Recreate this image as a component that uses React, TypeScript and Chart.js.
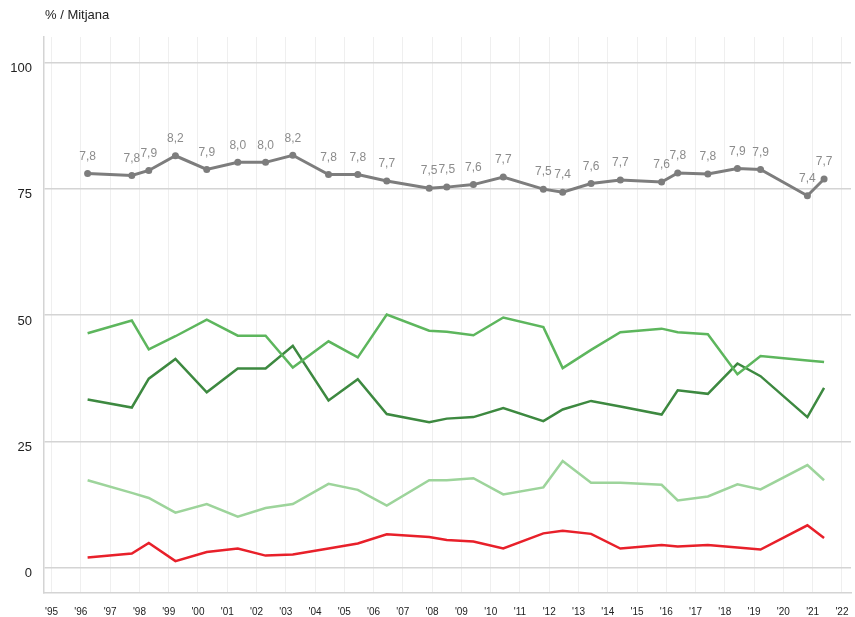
import React, { useEffect, useRef } from "react";
import { Chart, registerables } from "chart.js";

Chart.register(...registerables);

// survey dates (decimal years)
const dates = [
  1996.23, 1997.74, 1998.32, 1999.23, 2000.3, 2001.36, 2002.31, 2003.24, 2004.46, 2005.46,
  2006.45, 2007.9, 2008.5, 2009.41, 2010.43, 2011.8, 2012.46, 2013.43, 2014.43, 2015.84,
  2016.39, 2017.42, 2018.43, 2019.22, 2020.82, 2021.39,
];

// mean (0-10 scale), plotted ×10
const mean = [
  7.8, 7.76, 7.86, 8.15, 7.88, 8.02, 8.02, 8.16, 7.78, 7.78,
  7.65, 7.51, 7.53, 7.58, 7.73, 7.49, 7.43, 7.6, 7.67, 7.63,
  7.81, 7.79, 7.9, 7.88, 7.36, 7.69,
];

const seriesMid = [
  46.4, 48.9, 43.2, 45.8, 49.1, 45.9, 45.9, 39.6, 44.8, 41.6,
  50.1, 46.9, 46.7, 46.0, 49.5, 47.6, 39.5, 43.1, 46.6, 47.3,
  46.6, 46.2, 38.3, 41.9, 41.0, 40.7,
];

const seriesDark = [
  33.3, 31.7, 37.4, 41.3, 34.7, 39.4, 39.4, 43.9, 33.1, 37.3,
  30.4, 28.8, 29.5, 29.8, 31.6, 29.0, 31.3, 33.0, 31.9, 30.3,
  35.1, 34.4, 40.4, 37.9, 29.8, 35.6,
];

const seriesLight = [
  17.3, 14.8, 13.8, 10.9, 12.6, 10.1, 11.8, 12.6, 16.6, 15.4,
  12.3, 17.3, 17.3, 17.7, 14.5, 15.9, 21.1, 16.8, 16.8, 16.4,
  13.3, 14.1, 16.5, 15.5, 20.3, 17.3,
];

const seriesRed = [
  2.0, 2.8, 4.9, 1.3, 3.1, 3.8, 2.4, 2.6, 3.8, 4.8,
  6.6, 6.1, 5.5, 5.2, 3.8, 6.8, 7.3, 6.7, 3.8, 4.5,
  4.2, 4.5, 4.0, 3.6, 8.4, 5.9,
];

const yTicks = [0, 25, 50, 75, 100];
const xTicks = Array.from({ length: 28 }, (_, i) => 1995 + i);
const yTitle = "% / Mitjana";

const pts = (vals: number[], k = 1) => vals.map((v, i) => ({ x: dates[i], y: v * k }));

export default function App() {
  const ref = useRef<HTMLCanvasElement>(null);
  useEffect(() => {
    if (!ref.current) return;
    const labelPlugin = {
      id: "meanLabels",
      afterDatasetsDraw(chart: any) {
        const ctx = chart.ctx;
        const meta = chart.getDatasetMeta(0);
        ctx.save();
        ctx.font = "12px 'Liberation Sans', Arial, sans-serif";
        ctx.fillStyle = "#8c8c8c";
        ctx.textAlign = "center";
        ctx.textBaseline = "middle";
        meta.data.forEach((el: any, i: number) => {
          ctx.fillText(mean[i].toFixed(1).replace(".", ","), el.x, el.y - 17);
        });
        ctx.restore();
      },
      afterDraw(chart: any) {
        const ctx = chart.ctx;
        ctx.save();
        ctx.font = "13px 'Liberation Sans', Arial, sans-serif";
        ctx.fillStyle = "#222";
        ctx.textAlign = "left";
        ctx.textBaseline = "middle";
        ctx.fillText(yTitle, 45, 15);
        ctx.restore();
      },
    };
    const chart = new Chart(ref.current, {
      type: "line",
      data: {
        datasets: [
          {
            data: pts(mean, 10),
            borderColor: "#7d7d7d",
            backgroundColor: "#7d7d7d",
            borderWidth: 3,
            pointRadius: 3.5,
            pointBorderWidth: 0,
          },
          { data: pts(seriesMid), borderColor: "#5db65d", borderWidth: 2.5, pointRadius: 0 },
          { data: pts(seriesDark), borderColor: "#3d8940", borderWidth: 2.5, pointRadius: 0 },
          { data: pts(seriesLight), borderColor: "#9dd49b", borderWidth: 2.5, pointRadius: 0 },
          { data: pts(seriesRed), borderColor: "#e8202a", borderWidth: 2.5, pointRadius: 0 },
        ],
      },
      options: {
        animation: false,
        responsive: true,
        maintainAspectRatio: false,
        layout: { padding: { top: 37, right: 3, left: 0, bottom: 0 } },
        plugins: { legend: { display: false }, tooltip: { enabled: false } },
        scales: {
          x: {
            type: "linear",
            min: 1994.74,
            max: 2022.31,
            afterBuildTicks: (s: any) => {
              s.ticks = xTicks.map((v) => ({ value: v }));
            },
            afterFit: (s: any) => {
              s.height = 24;
              s.paddingLeft = 0;
              s.paddingRight = 0;
            },
            grid: { color: "#efefef", lineWidth: 1, drawTicks: false },
            border: { color: "#d4d4d4", width: 1.5 },
            ticks: {
              padding: 13,
              color: "#222",
              font: { size: 10, family: "'Liberation Sans', Arial, sans-serif" },
              maxRotation: 0,
              autoSkip: false,
              callback: (v: any) => "'" + String(v).slice(2),
            },
          },
          y: {
            min: -5,
            max: 105,
            afterBuildTicks: (s: any) => {
              s.ticks = yTicks.map((v) => ({ value: v }));
            },
            afterFit: (s: any) => {
              s.width = 44;
              s.paddingTop = 0;
              s.paddingBottom = 0;
            },
            grid: { color: "#d4d4d4", lineWidth: 1.5, drawTicks: false },
            border: { color: "#d4d4d4", width: 1.5 },
            ticks: {
              padding: 12,
              labelOffset: 6,
              color: "#222",
              font: { size: 13, family: "'Liberation Sans', Arial, sans-serif" },
            },
          },
        },
      },
      plugins: [labelPlugin],
    });
    return () => chart.destroy();
  }, []);
  return (
    <div style={{ position: "fixed", left: 0, top: 0, width: 855, height: 617, background: "#fff" }}>
      <canvas ref={ref} />
    </div>
  );
}
